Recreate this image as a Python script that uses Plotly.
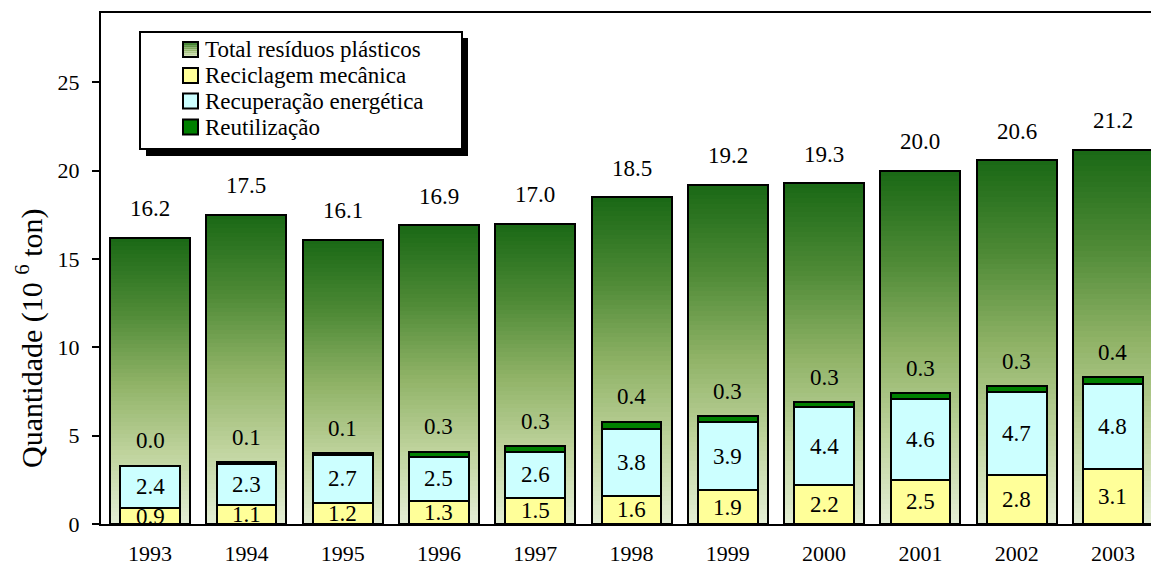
import plotly.graph_objects as go

years = ["1993", "1994", "1995", "1996", "1997", "1998", "1999", "2000", "2001", "2002", "2003"]
total = [16.2, 17.5, 16.1, 16.9, 17.0, 18.5, 19.2, 19.3, 20.0, 20.6, 21.2]
mecanica = [0.9, 1.1, 1.2, 1.3, 1.5, 1.6, 1.9, 2.2, 2.5, 2.8, 3.1]
energetica = [2.4, 2.3, 2.7, 2.5, 2.6, 3.8, 3.9, 4.4, 4.6, 4.7, 4.8]
reutilizacao = [0.0, 0.1, 0.1, 0.3, 0.3, 0.4, 0.3, 0.3, 0.3, 0.3, 0.4]
y_ticks = [0, 5, 10, 15, 20, 25]
legend_names = ["Total resíduos plásticos", "Reciclagem mecânica",
                "Recuperação energética", "Reutilização"]
y_title = "Quantidade (10 <sup>6</sup> ton)"

FONT = "Liberation Serif, Times New Roman, serif"
C_MEC = "#ffff99"
C_ENE = "#ccffff"
C_REU = "#008000"

stops = [(0.0, (229, 239, 215)), (0.25, (192, 212, 158)), (0.5, (143, 178, 102)),
         (0.75, (78, 138, 54)), (1.0, (27, 105, 22))]


def grad(f):
    for (f0, c0), (f1, c1) in zip(stops[:-1], stops[1:]):
        if f <= f1:
            t = (f - f0) / (f1 - f0)
            return "rgb(%d,%d,%d)" % tuple(round(a + (b - a) * t) for a, b in zip(c0, c1))
    return "rgb(%d,%d,%d)" % stops[-1][1]


W_TOT = 0.83
W_IN = 0.62
fig = go.Figure()

N = 70
for i in range(N):
    frac = 1 - i / N
    fig.add_trace(go.Bar(x=years, y=[t * frac for t in total], width=W_TOT,
                         marker=dict(color=grad(frac), line=dict(width=0)),
                         showlegend=False, hoverinfo="skip"))

fig.add_trace(go.Bar(x=years, y=total, width=W_TOT, name=legend_names[0],
                     marker=dict(color="rgba(0,0,0,0)", line=dict(color="black", width=2)),
                     showlegend=False))

base_e = mecanica
base_r = [m + e for m, e in zip(mecanica, energetica)]
fig.add_trace(go.Bar(x=years, y=mecanica, width=W_IN, name=legend_names[1],
                     marker=dict(color=C_MEC, line=dict(color="black", width=2)), showlegend=False))
fig.add_trace(go.Bar(x=years, y=energetica, base=base_e, width=W_IN, name=legend_names[2],
                     marker=dict(color=C_ENE, line=dict(color="black", width=2)), showlegend=False))
fig.add_trace(go.Bar(x=years, y=reutilizacao, base=base_r, width=W_IN, name=legend_names[3],
                     marker=dict(color=C_REU, line=dict(color="black", width=2)), showlegend=False))

idx = list(range(len(years)))
ann = []
for x, t in zip(idx, total):
    ann.append(dict(x=x, y=t, text="%.1f" % t, yshift=29))
for x, b, r in zip(idx, base_r, reutilizacao):
    ann.append(dict(x=x, y=b + r, text="%.1f" % r, yshift=25))
for x, m, e in zip(idx, mecanica, energetica):
    ann.append(dict(x=x, y=m + e / 2, text="%.1f" % e, yshift=0))
for x, m in zip(idx, mecanica):
    ann.append(dict(x=x, y=m / 2, text="%.1f" % m, yshift=0))
for a in ann:
    a.update(xref="x", yref="y", showarrow=False, xanchor="center", yanchor="middle",
             font=dict(family=FONT, size=23, color="black"))

PL, PR, PT, PB = 101, 1151, 13, 524
PW = PR - PL
PH = PB - PT


def px(xp):
    return (xp - PL) / PW


def py(yp):
    return (PB - yp) / PH


shapes = [
    dict(type="rect", xref="paper", yref="paper", x0=px(146), x1=px(468), y0=py(156), y1=py(38),
         fillcolor="black", line=dict(width=0), layer="above"),
    dict(type="rect", xref="paper", yref="paper", x0=px(140), x1=px(462), y0=py(149), y1=py(32),
         fillcolor="white", line=dict(color="black", width=2), layer="above"),
]

# legend (custom, Excel-style)
leg_y = [49.5, 75.5, 101, 127]
leg_cols = [None, C_MEC, C_ENE, C_REU]
for name, yc, col in zip(legend_names, leg_y, leg_cols):
    if col is None:
        M = 8
        for k in range(M):
            f = 0.85 - 0.85 * (k + 0.5) / M
            shapes.append(dict(type="rect", xref="paper", yref="paper",
                               x0=px(183), x1=px(198),
                               y0=py(yc - 7.5 + 15 * (k + 1) / M), y1=py(yc - 7.5 + 15 * k / M),
                               fillcolor=grad(f + 0.1), line=dict(width=0), layer="above"))
        shapes.append(dict(type="rect", xref="paper", yref="paper", x0=px(183), x1=px(198),
                           y0=py(yc + 7.5), y1=py(yc - 7.5), fillcolor="rgba(0,0,0,0)",
                           line=dict(color="black", width=2), layer="above"))
    else:
        shapes.append(dict(type="rect", xref="paper", yref="paper", x0=px(183), x1=px(198),
                           y0=py(yc + 7.5), y1=py(yc - 7.5), fillcolor=col,
                           line=dict(color="black", width=2), layer="above"))
    ann.append(dict(xref="paper", yref="paper", x=px(203), y=py(yc), text=name,
                    showarrow=False, xanchor="left", yanchor="middle",
                    font=dict(family=FONT, size=23, color="black")))

ann.append(dict(xref="paper", yref="paper", x=px(29), y=py(338), text=y_title,
                textangle=-90, showarrow=False, xanchor="center", yanchor="middle",
                font=dict(family=FONT, size=30, color="black")))

fig.update_layout(
    width=1151, height=569,
    margin=dict(l=PL, r=0, t=PT, b=569 - PB, autoexpand=False),
    barmode="overlay",
    bargap=0,
    plot_bgcolor="white", paper_bgcolor="white",
    font=dict(family=FONT, size=22, color="black"),
    annotations=ann,
    shapes=shapes,
    showlegend=False,
    xaxis=dict(type="category", range=[-0.51, 10.395], showline=True, linecolor="black",
               linewidth=2, mirror=True, ticks="", showgrid=False, ticklabelstandoff=9,
               tickfont=dict(family=FONT, size=22), automargin=False),
    yaxis=dict(range=[0, 28.93], tickvals=y_ticks, ticks="outside", ticklen=7, tickwidth=2,
               tickcolor="black", showline=True, linecolor="black", linewidth=2,
               showgrid=False, zeroline=False, ticklabelstandoff=8,
               tickfont=dict(family=FONT, size=22), automargin=False),
)

fig.write_html("out.html", config={"displayModeBar": False},
               post_script="document.body.style.margin='0';")
